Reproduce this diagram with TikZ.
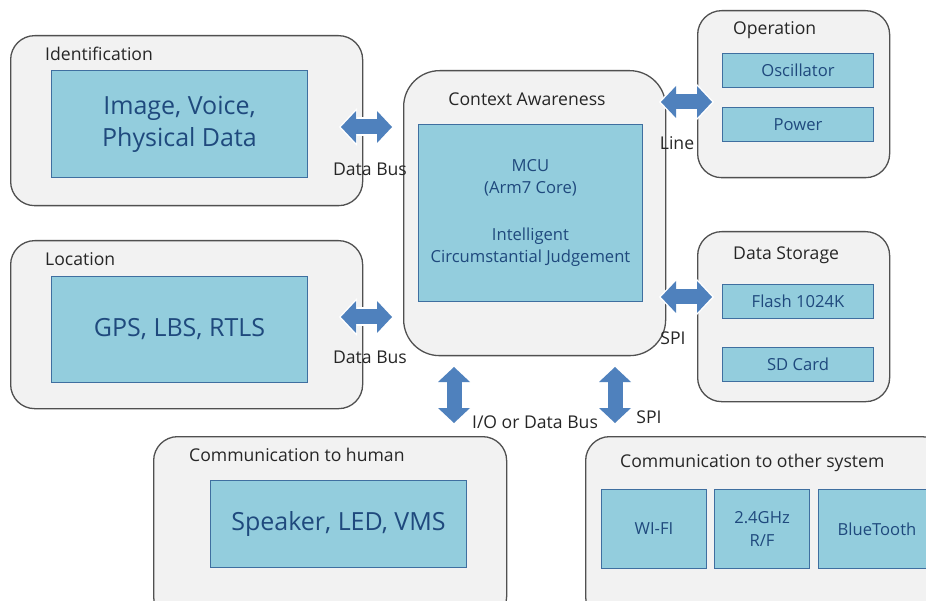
\documentclass[tikz,border=0pt]{standalone}
\usepackage{fontspec}
\setmainfont{Open Sans}
\usetikzlibrary{arrows.meta}
\definecolor{outerfill}{HTML}{F2F2F2}
\definecolor{outerdraw}{HTML}{505050}
\definecolor{innerfill}{HTML}{93CDDD}
\definecolor{innerdraw}{HTML}{3F6FA0}
\definecolor{innertext}{HTML}{1F497D}
\definecolor{busblue}{HTML}{4F81BD}
\definecolor{lbltext}{HTML}{262626}
\tikzset{
  outerbox/.style={draw=outerdraw, fill=outerfill, line width=1.3pt, rounded corners=24pt, inner sep=0pt, anchor=north west},
  innerbox/.style={draw=innerdraw, fill=innerfill, line width=1pt, inner sep=0pt, anchor=north west, text=innertext, align=center},
  bigtxt/.style={font=\fontsize{25}{32}\selectfont},
  midtxt/.style={font=\fontsize{16.6}{22}\selectfont},
  lbl/.style={text=lbltext, inner sep=0pt, font=\fontsize{17.6}{20}\selectfont},
  buslbl/.style={text=lbltext, inner sep=0pt, font=\fontsize{17.6}{20}\selectfont},
  bus/.style={draw=busblue, line width=15pt,
    {Triangle[width=32pt,length=15pt,line width=0pt]}-{Triangle[width=32pt,length=15pt,line width=0pt]},
    preaction={draw=white, line width=19pt, shorten >=-2pt, shorten <=-2pt,
      {Triangle[width=38pt,length=18pt,line width=0pt]}-{Triangle[width=38pt,length=18pt,line width=0pt]}}}
}
\begin{document}
\begin{tikzpicture}[x=1pt,y=-1pt]
\useasboundingbox (0,0) rectangle (926,601);
\clip (0,0) rectangle (926,601);
% outer boxes
\node[outerbox, minimum width=352pt, minimum height=170pt] (ident) at (10,35) {};
\node[outerbox, minimum width=352pt, minimum height=168pt] (loc) at (10,240) {};
\node[outerbox, minimum width=262pt, minimum height=285pt, rounded corners=36pt] (ctx) at (403,70) {};
\node[outerbox, minimum width=192pt, minimum height=167pt] (oper) at (697,10) {};
\node[outerbox, minimum width=192pt, minimum height=170pt] (store) at (697,231) {};
\node[outerbox, minimum width=353pt, minimum height=184pt] (human) at (153,436) {};
\node[outerbox, minimum width=360pt, minimum height=184pt] (other) at (585,436) {};
% labels
\node[lbl, anchor=west] (identlbl) at (45,54) {Identification};
\node[lbl, anchor=west] (loclbl) at (45,259) {Location};
\node[lbl] (ctxlbl) at (527,99) {Context Awareness};
\node[lbl, anchor=west] (operlbl) at (733,30) {Operation};
\node[lbl, anchor=west] (storelbl) at (733,255) {Data Storage};
\node[lbl, anchor=west] (humanlbl) at (189,455) {Communication to human};
\node[lbl, anchor=west] (otherlbl) at (620,463) {Communication to other system};
% inner boxes
\node[innerbox, bigtxt, minimum width=256pt, minimum height=107pt] (identin) at (51,70) {Image, Voice,\\Physical Data};
\node[innerbox, bigtxt, minimum width=256pt, minimum height=106pt] (locin) at (51,276) {GPS, LBS, RTLS};
\node[innerbox, midtxt, minimum width=224pt, minimum height=177pt] (ctxin) at (418,124) {MCU\\(Arm7 Core)\\[25pt]Intelligent\\Circumstantial Judgement};
\node[innerbox, midtxt, minimum width=151pt, minimum height=34pt] (osc) at (722,53) {Oscillator};
\node[innerbox, midtxt, minimum width=151pt, minimum height=34pt] (power) at (722,107) {Power};
\node[innerbox, midtxt, minimum width=151pt, minimum height=34pt] (flash) at (722,284) {Flash 1024K};
\node[innerbox, midtxt, minimum width=151pt, minimum height=34pt] (sd) at (722,347) {SD Card};
\node[innerbox, bigtxt, minimum width=256pt, minimum height=87pt] (humin) at (210,480) {Speaker, LED, VMS};
\node[innerbox, midtxt, minimum width=105pt, minimum height=79pt] (wifi) at (601,489) {WI-FI};
\node[innerbox, midtxt, minimum width=95pt, minimum height=79pt, font=\fontsize{16.6}{23}\selectfont] (rf) at (714,489) {2.4GHz\\R/F};
\node[innerbox, midtxt, minimum width=122pt, minimum height=79pt] (bt) at (818,489) {};
\node[text=innertext, midtxt, inner sep=0pt] (bttxt) at (877,529) {BlueTooth};
% bus arrows
\coordinate (a1l) at (341,127); \coordinate (a1r) at (392,127);
\coordinate (a2l) at (341,317); \coordinate (a2r) at (392,317);
\coordinate (a3l) at (661,102); \coordinate (a3r) at (712,102);
\coordinate (a4l) at (661,297); \coordinate (a4r) at (712,297);
\coordinate (a5t) at (454,367); \coordinate (a5b) at (454,423);
\coordinate (a6t) at (615,367); \coordinate (a6b) at (615,423);
\draw[bus] (a1l) -- (a1r);
\draw[bus] (a2l) -- (a2r);
\draw[bus] (a3l) -- (a3r);
\draw[bus] (a4l) -- (a4r);
\draw[bus] (a5t) -- (a5b);
\draw[bus] (a6t) -- (a6b);
% bus labels
\node[buslbl] (b1) at (370,169) {Data Bus};
\node[buslbl] (b2) at (370,357) {Data Bus};
\node[buslbl] (b3) at (677,143) {Line};
\node[buslbl] (b4) at (673,338) {SPI};
\node[buslbl] (b5) at (535,422) {I/O or Data Bus};
\node[buslbl] (b6) at (649,417) {SPI};
\end{tikzpicture}
\end{document}
